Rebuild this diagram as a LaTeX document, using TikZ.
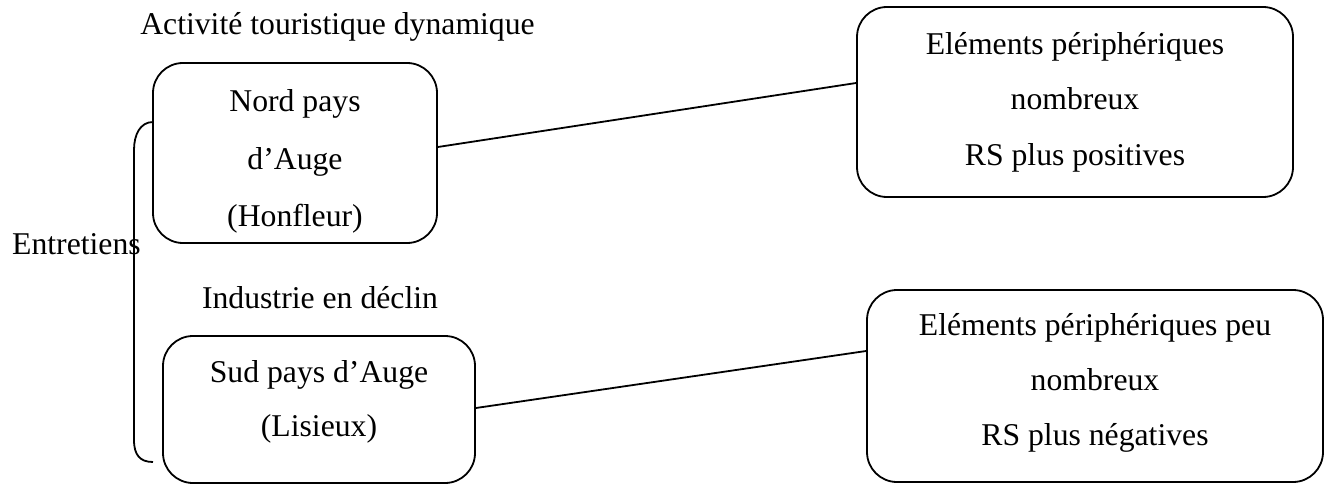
\documentclass[tikz,border=0pt]{standalone}
\usepackage{fontspec}
\setmainfont{Liberation Serif}
\begin{document}
\begin{tikzpicture}[x=1pt,y=-1pt,
  box/.style={draw, line width=1.8pt, rounded corners=30pt, inner sep=0pt, minimum width=#1},
  txt/.style={font=\fontsize{31.7}{38}\selectfont, inner sep=0pt, anchor=base},
  conn/.style={line width=1.8pt}]
\path[use as bounding box] (0,0) rectangle (1332,484);
% boxes
\node[box=284pt, minimum height=180pt] (b1) at (295,153) {};
\node[box=436pt, minimum height=190pt] (b2) at (1075,102) {};
\node[box=312pt, minimum height=147pt] (b3) at (319,409.5) {};
\node[box=456pt, minimum height=192pt] (b4) at (1095,386) {};
% box texts
\node[txt] (b1a) at (295,112) {Nord pays};
\node[txt] (b1b) at (295,169) {d’Auge};
\node[txt] (b1c) at (295,226) {(Honfleur)};
\node[txt] (b2a) at (1075,55) {Eléments périphériques};
\node[txt] (b2b) at (1075,110) {nombreux};
\node[txt] (b2c) at (1075,165) {RS plus positives};
\node[txt] (b3a) at (319,382) {Sud pays d’Auge};
\node[txt] (b3b) at (319,436) {(Lisieux)};
\node[txt] (b4a) at (1095,335) {Eléments périphériques peu};
\node[txt] (b4b) at (1095,390) {nombreux};
\node[txt] (b4c) at (1095,445) {RS plus négatives};
% labels
\node[txt] (l1) at (337.5,35) {Activité touristique dynamique};
\node[txt] (l2) at (320,308) {Industrie en déclin};
\node[txt, anchor=base west] (l3) at (12,254) {Entretiens};
% connectors
\draw[conn] ([yshift=6pt]b1.east) -- ([yshift=19pt]b2.west);
\draw[conn] ([yshift=1.5pt]b3.east) -- ([yshift=35pt]b4.west);
% bracket
\coordinate (bt) at (153,122);
\coordinate (bb) at (153,462);
\draw[conn] (bt) .. controls (140,122) and (134,135) .. (134,150)
  -- (134,440) .. controls (134,455) and (140,462) .. (bb);
\end{tikzpicture}
\end{document}
